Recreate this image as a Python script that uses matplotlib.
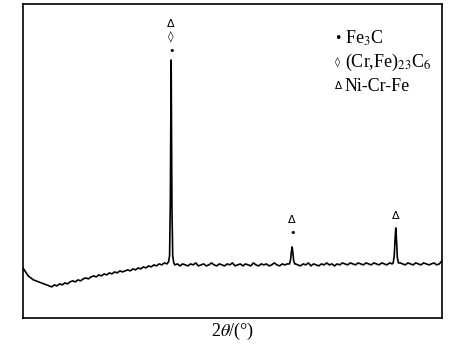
import numpy as np
import matplotlib
matplotlib.use("Agg")
import matplotlib.pyplot as plt

plt.rcParams['font.family'] = ['Liberation Serif', 'DejaVu Serif']
plt.rcParams['mathtext.fontset'] = 'stix'

# baseline, 10..90 deg every 0.5 deg
base_start = 10.0
base_step = 0.5
base_y = [50, 46, 42, 40, 38, 37, 36, 35, 34, 33, 32, 31, 33, 32, 34, 33, 35, 34, 36, 37,
          36, 38, 37, 39, 40, 39, 41, 42, 41, 43, 42, 44, 43, 45, 44, 46, 45, 47, 46, 47,
          48, 47, 49, 48, 50, 49, 51, 50, 52, 51, 53, 52, 54, 53, 55, 54, 55, 55, 53, 54,
          52, 54, 53, 52, 54, 53, 55, 52, 53, 54, 52, 53, 55, 53, 52, 54, 53, 52, 54, 53,
          55, 52, 53, 54, 52, 54, 53, 52, 55, 53, 52, 54, 53, 54, 52, 53, 55, 53, 52, 54,
          53, 54, 55, 56, 54, 53, 52, 54, 53, 55, 52, 54, 53, 52, 54, 53, 55, 53, 54, 52,
          54, 53, 55, 54, 53, 55, 54, 53, 55, 54, 53, 55, 54, 53, 55, 54, 53, 55, 54, 53,
          55, 54, 55, 55, 55, 54, 53, 55, 54, 53, 55, 54, 53, 55, 54, 53, 54, 55, 53, 54, 57]

# diffraction peaks
peak_pos = [38.3, 61.4, 81.2]
peak_dx = [-0.5, -0.3, -0.15, 0.0, 0.15, 0.3, 0.5]
peak_y = [[56, 62, 120, 258, 110, 62, 55],
          [54, 58, 66, 71, 65, 57, 54],
          [55, 62, 78, 90, 76, 60, 55]]

# phase symbols above each peak
sym_x = [38.3, 38.3, 38.3, 61.4, 61.4, 81.2]
sym_y = [294, 281, 267, 98, 85, 102]
sym_txt = ["Δ", "◊", "•", "Δ", "•", "Δ"]

legend_sym = ["•", "◊", "Δ"]
legend_txt = ["Fe$_3$C", "(Cr,Fe)$_{23}$C$_6$", "Ni-Cr-Fe"]

bx = base_start + base_step * np.arange(len(base_y))
by = np.array(base_y, dtype=float)
keep = np.ones(len(bx), bool)
for p in peak_pos:
    keep &= np.abs(bx - p) >= 0.6
xs = list(bx[keep])
ys = list(by[keep])
for p, py in zip(peak_pos, peak_y):
    xs += [p + d for d in peak_dx]
    ys += py
order = np.argsort(xs)
xs = np.array(xs)[order]
ys = np.array(ys)[order]

fig = plt.figure(figsize=(4.5, 3.44), dpi=100)
ax = fig.add_axes([0.051, 0.076, 0.931, 0.912])
ax.plot(xs, ys, color="black", lw=1.2)
ax.set_xlim(10, 90)
ax.set_ylim(0, 314)
ax.set_xticks([])
ax.set_yticks([])
for s in ax.spines.values():
    s.set_linewidth(1.2)

for x, y, t in zip(sym_x, sym_y, sym_txt):
    ax.text(x, y, t, ha="center", va="center", fontsize=8,
            family=['DejaVu Sans'])

for i, (s, t) in enumerate(zip(legend_sym, legend_txt)):
    yy = 0.892 - i * 0.077
    ax.text(0.752, yy, s, transform=ax.transAxes, ha="center", va="center",
            fontsize=9 if s == "•" else 7.5, family=['DejaVu Sans'])
    ax.text(0.768, yy, t, transform=ax.transAxes,
            ha="left", va="center", fontsize=13)

ax.set_xlabel(r"2$\theta$/(°)", fontsize=13, labelpad=2)

plt.savefig("out.png", dpi=100)
plt.close()
